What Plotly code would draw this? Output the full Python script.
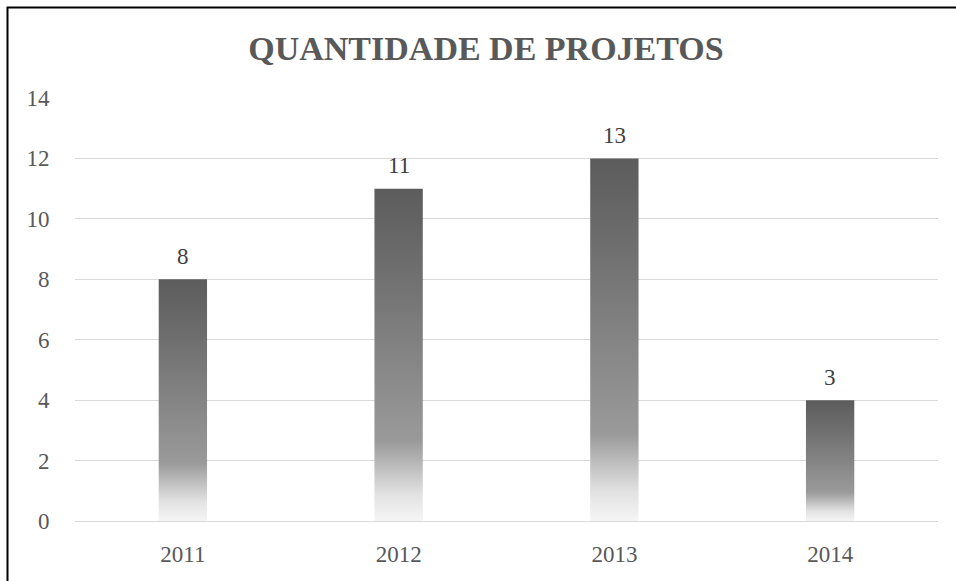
import plotly.graph_objects as go

years = ["2011", "2012", "2013", "2014"]
bar_values = [8, 11, 12, 4]
label_texts = ["8", "11", "13", "3"]
y_ticks = [0, 2, 4, 6, 8, 10, 12, 14]

W, H = 956, 581
L, R, T, B = 75, 18, 98, 60
half_w = 0.112

gradient = [[0.0, "#f5f5f5"], [0.08, "#e2e2e2"], [0.24, "#9a9a9a"],
            [0.5, "#848484"], [0.75, "#6f6f6f"], [1.0, "#5c5c5c"]]

fig = go.Figure()
for i, v in enumerate(bar_values):
    fig.add_trace(go.Scatter(
        x=[i - half_w, i + half_w, i + half_w, i - half_w, i - half_w],
        y=[0, 0, v, v, 0],
        mode="lines", line=dict(width=0), fill="toself",
        fillgradient=dict(type="vertical", colorscale=gradient),
        hoverinfo="skip", showlegend=False))

for i, (v, t) in enumerate(zip(bar_values, label_texts)):
    fig.add_annotation(x=i, y=v, text=t, showarrow=False, yanchor="middle",
                       yshift=23,
                       font=dict(family="Liberation Serif", size=23, color="#404040"))

pw = W - L - R
ph = H - T - B
def px_x(p):
    return (p - L) / pw
def px_y(p):
    return (H - B - p) / ph

fig.add_shape(type="rect", xref="paper", yref="paper",
              x0=px_x(7.5), x1=px_x(W + 5), y0=px_y(7.5), y1=px_y(H + 5),
              line=dict(color="black", width=2), fillcolor="rgba(0,0,0,0)",
              layer="above")

fig.update_layout(
    width=W, height=H,
    margin=dict(l=L, r=R, t=T, b=B),
    paper_bgcolor="white", plot_bgcolor="white",
    title=dict(text="<b>QUANTIDADE DE PROJETOS</b>", x=486 / W,
               xanchor="center", y=1 - 48 / H, yanchor="middle",
               font=dict(family="Liberation Serif", size=34, color="#595959")),
    xaxis=dict(range=[-0.5, 3.5], tickvals=list(range(len(years))), ticktext=years,
               showgrid=False, zeroline=False, showline=True, linecolor="#d9d9d9",
               ticks="outside", ticklen=12, tickcolor="rgba(0,0,0,0)",
               tickfont=dict(family="Liberation Serif", size=23, color="#595959")),
    yaxis=dict(range=[0, 14], tickvals=y_ticks, showgrid=True, gridcolor="#d9d9d9",
               zeroline=False, ticks="outside", ticklen=20, tickcolor="rgba(0,0,0,0)",
               tickfont=dict(family="Liberation Serif", size=23, color="#595959")),
)

fig.write_html("out.html", config={"displayModeBar": False},
               post_script="document.body.style.margin='0';document.body.style.overflow='hidden';")
